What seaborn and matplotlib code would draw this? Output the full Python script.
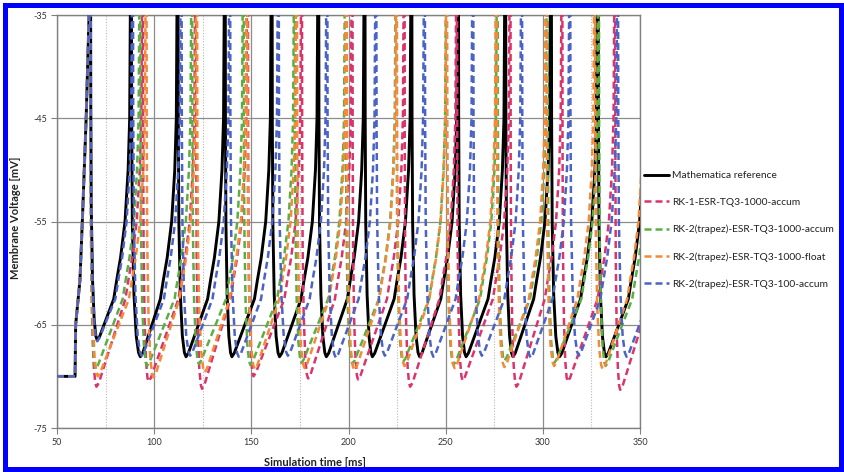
import matplotlib
matplotlib.use("Agg")
import matplotlib.pyplot as plt
from matplotlib.patches import Rectangle
import seaborn as sns
import pandas as pd

# ---------------- data ----------------
series_names = [
    "Mathematica reference",
    "RK-1-ESR-TQ3-1000-accum",
    "RK-2(trapez)-ESR-TQ3-1000-accum",
    "RK-2(trapez)-ESR-TQ3-1000-float",
    "RK-2(trapez)-ESR-TQ3-100-accum",
]

# shared resting / first upstroke (ms, mV)
start_t = [50.0, 59.3, 59.6, 61.8, 63.2, 65.0, 66.5]
start_v = [-70.0, -70.0, -65.0, -60.7, -54.2, -45.0, -35.0]

# spike times (last one lies beyond the right edge), trough times and trough voltages
black_spikes = [67.2, 88.2, 112.2, 136.5, 160.6, 184.6, 208.4, 232.5, 256.5, 280.8, 304.3, 328.4, 353.0]
black_trough_t = [70.7, 92.9, 116.4, 140.0, 164.5, 188.6, 212.3, 236.6, 260.5, 284.6, 308.6, 332.5]
black_trough_v = [-66.5, -68.1, -68.1, -68.1, -68.1, -68.1, -68.1, -68.1, -68.1, -68.1, -68.1, -68.1]

red_spikes = [67.2, 94.2, 121.5, 148.2, 176.0, 202.0, 228.8, 255.8, 283.3, 310.0, 337.2, 364.0]
red_trough_t = [70.3, 97.1, 124.6, 151.1, 179.2, 204.9, 231.7, 258.7, 286.4, 312.8, 339.8]
red_trough_v = [-71.0, -70.5, -71.2, -70.0, -70.2, -70.3, -71.0, -70.4, -71.0, -70.5, -71.3]

green_spikes = [67.2, 92.8, 119.5, 146.0, 172.3, 198.5, 224.6, 250.5, 276.7, 302.4, 328.8, 355.0]
green_trough_t = [69.8, 96.3, 123.0, 149.5, 175.8, 202.0, 228.1, 254.0, 280.2, 305.9, 332.3]
green_trough_v = [-69.3, -69.0, -68.8, -68.9, -68.7, -68.8, -68.6, -68.9, -68.5, -68.7, -69.0]

orange_spikes = [67.2, 96.0, 122.0, 147.8, 173.4, 199.0, 224.8, 250.6, 276.2, 301.8, 326.8, 352.4]
orange_trough_t = [71.0, 99.6, 126.0, 151.8, 177.4, 203.0, 228.8, 254.6, 280.2, 305.8, 330.8]
orange_trough_v = [-70.0, -70.1, -69.6, -69.3, -69.2, -69.4, -69.0, -69.2, -69.1, -69.0, -69.3]

blue_spikes = [67.2, 89.0, 114.0, 139.0, 164.0, 189.0, 214.2, 239.2, 264.1, 289.2, 314.0, 338.6, 363.6]
blue_trough_t = [70.7, 93.5, 118.5, 143.5, 168.8, 193.5, 218.7, 243.7, 268.6, 293.7, 318.5, 343.1]
blue_trough_v = [-66.6, -68.0, -68.0, -68.1, -68.0, -68.2, -68.0, -68.1, -68.0, -68.2, -68.0, -68.1]

peak_v = -20.0                                   # spike tip (above the visible range)
fall_frac = [0.05, 0.12, 0.30, 0.55, 0.80]       # fraction of spike->trough time
fall_up = [23.0, 13.0, 6.0, 2.0, 0.4]            # mV above trough
round_dt, round_dv = 1.2, 0.35                   # rounded trough bottom
rise_before = [9.0, 7.5, 5.5, 3.2, 1.6, 0.8]     # ms before next spike
rise_v = [-62.5, -60.7, -58.5, -55.0, -50.0, -45.0]

x_ticks = [50, 100, 150, 200, 250, 300, 350]
x_minor = [75, 125, 175, 225, 275, 325]
y_ticks = [-75, -65, -55, -45, -35]
x_label = "Simulation time [ms]"
y_label = "Membrane Voltage [mV]"


def build(spikes, trough_t, trough_v):
    t = list(start_t)
    v = list(start_v)
    for k in range(len(trough_t)):
        s = spikes[k]
        tt, vt = trough_t[k], trough_v[k]
        d = tt - s
        t.append(s); v.append(peak_v)
        for f, u in zip(fall_frac, fall_up):
            t.append(s + f * d); v.append(vt + u)
        t.append(tt); v.append(vt)
        t.append(tt + round_dt); v.append(vt + round_dv)
        nxt = spikes[k + 1]
        for b, rv in zip(rise_before, rise_v):
            t.append(nxt - b); v.append(rv)
    t.append(spikes[-1]); v.append(peak_v)
    return t, v


series_data = [
    (black_spikes, black_trough_t, black_trough_v),
    (red_spikes, red_trough_t, red_trough_v),
    (green_spikes, green_trough_t, green_trough_v),
    (orange_spikes, orange_trough_t, orange_trough_v),
    (blue_spikes, blue_trough_t, blue_trough_v),
]
colors = ["#000000", "#d9356c", "#5aae45", "#f28a3a", "#4b63c5"]

frames = []
for name, (sp, tt, tv) in zip(series_names, series_data):
    t, v = build(sp, tt, tv)
    frames.append(pd.DataFrame({"time": t, "voltage": v, "series": name}))
df = pd.concat(frames, ignore_index=True)

# ---------------- drawing ----------------
sns.set_style("white")
plt.rcParams["font.family"] = ["Lato", "DejaVu Sans"]

W, H = 844, 472
fig = plt.figure(figsize=(W / 100, H / 100), dpi=100)
ax = fig.add_axes([57 / W, 1 - 428 / H, (640 - 57) / W, (428 - 15) / H])

for i, (name, col) in enumerate(zip(series_names, colors)):
    sub = df[df["series"] == name]
    if i == 0:
        sns.lineplot(data=sub, x="time", y="voltage", ax=ax, color=col, lw=2.1,
                     estimator=None, sort=False, label=name, zorder=3)
    else:
        sns.lineplot(data=sub, x="time", y="voltage", ax=ax, color=col, lw=1.8,
                     estimator=None, sort=False, label=name, zorder=4 + i,
                     linestyle=(0, (2.8, 1.6)))

ax.set_xlim(50, 350)
ax.set_ylim(-75, -35)
ax.set_xticks(x_ticks)
ax.set_xticks(x_minor, minor=True)
ax.set_yticks(y_ticks)
ax.set_xticklabels([str(x) for x in x_ticks])
ax.set_yticklabels([str(y) for y in y_ticks])
ax.set_xlabel("")
ax.set_ylabel("")

ax.grid(True, which="major", axis="both", color="#8c8c8c", lw=0.9, zorder=0)
ax.xaxis.grid(True, which="minor", color="#b8b8b8", lw=0.8, linestyle=(0, (1, 1.5)))
ax.set_axisbelow(True)
ax.tick_params(axis="both", which="major", direction="out", length=4, width=0.8,
               color="#808080", labelsize=6.5, labelcolor="#333333", pad=3)
ax.tick_params(axis="x", which="minor", length=0)
ax.tick_params(left=True, bottom=True)
for sp in ax.spines.values():
    sp.set_color("#808080")
    sp.set_linewidth(1.0)

fig.text(315 / W, 1 - 462 / H, x_label, ha="center", va="center",
         fontsize=8, fontweight="bold", color="#222222")
fig.text(16 / W, 1 - 218 / H, y_label, ha="center", va="center", rotation=90,
         fontsize=8, fontweight="bold", color="#222222")

leg = ax.legend(loc="upper left", bbox_to_anchor=(644 / W, 1 - 171 / H),
                bbox_transform=fig.transFigure, frameon=False, fontsize=7.4,
                labelspacing=1.72, handlelength=2.4, handletextpad=0.3,
                borderpad=0, borderaxespad=0)
for txt in leg.get_texts():
    txt.set_color("#222222")

fig.patches.append(Rectangle((4.5 / W, 3.5 / H), (841 - 4.5) / W, (467 - 3.5) / H,
                             transform=fig.transFigure, fill=False,
                             edgecolor="#0000ff", lw=3.6, zorder=10))

fig.savefig("out.png", dpi=100)
